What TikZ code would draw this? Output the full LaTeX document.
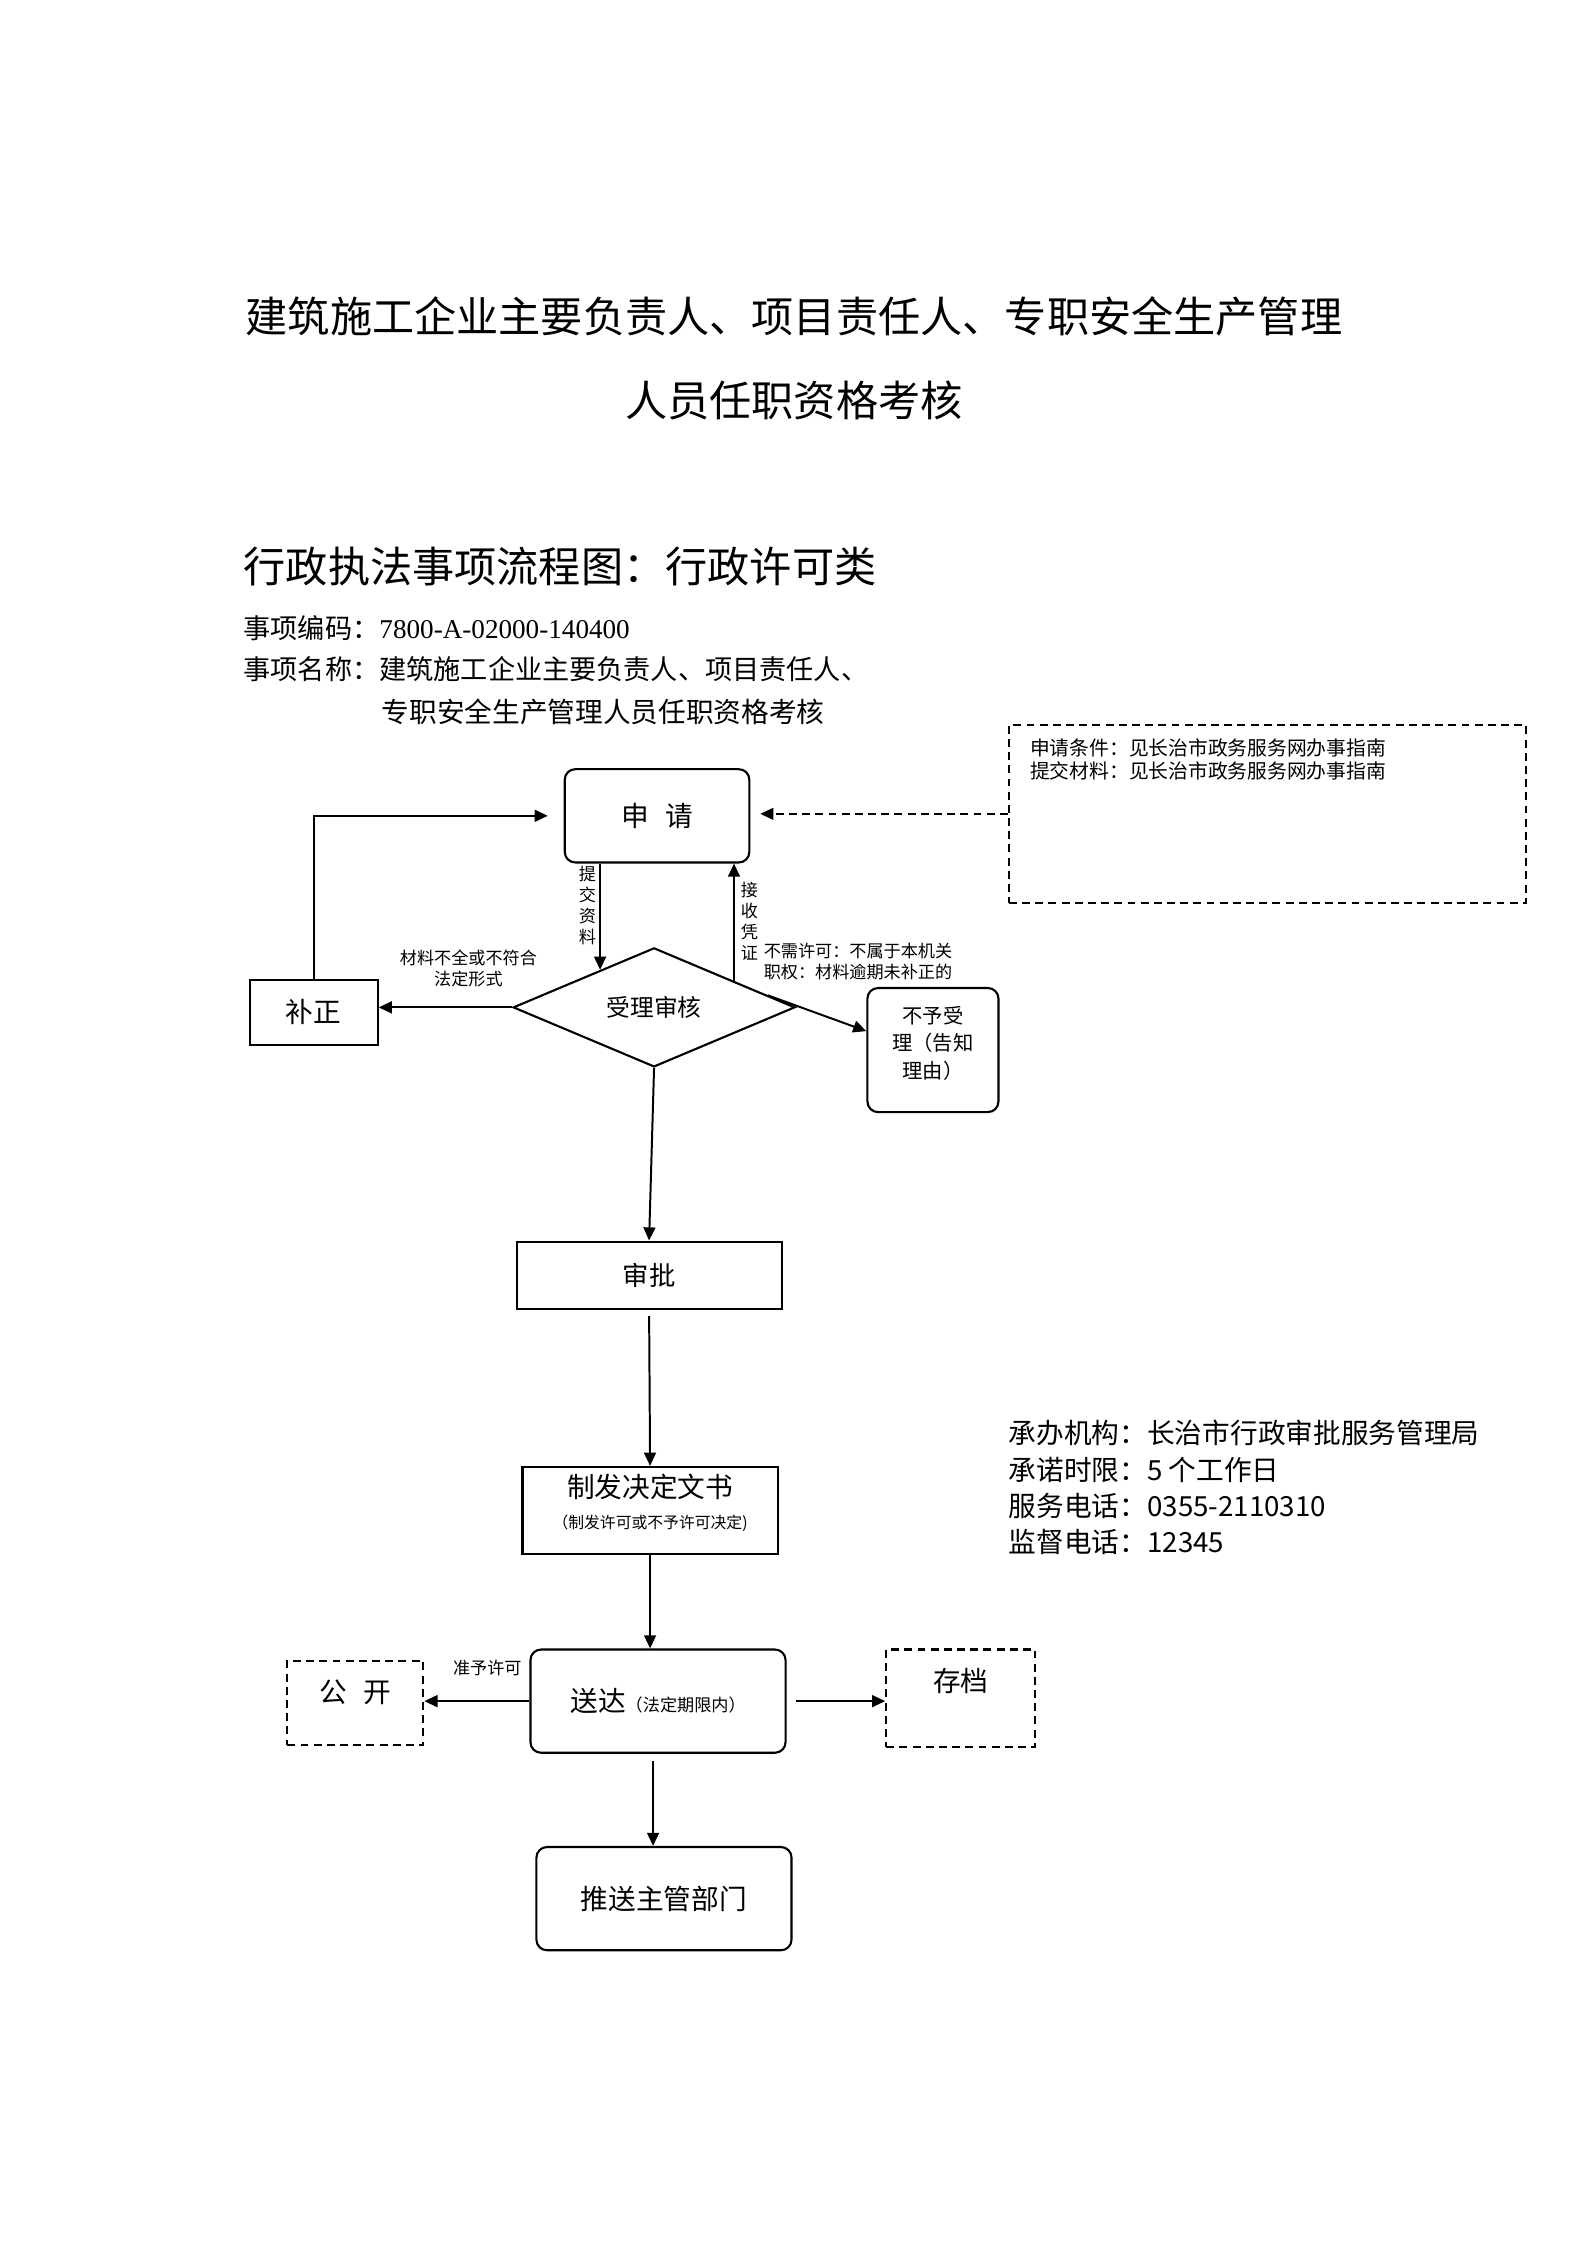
\documentclass[tikz,border=0pt]{standalone}
\usepackage{fontspec}
\setmainfont{Noto Sans CJK SC}
\newfontfamily\tnr{Liberation Serif}
\usetikzlibrary{calc,arrows.meta,shapes.geometric}

\newcommand{\setfs}[2]{\fontsize{#1}{#2}\selectfont}
\def\px{0.13233mm}

\tikzset{
  flowbox/.style={draw,line width=0.8pt,inner sep=0pt,align=center,font=\setfs{10.5}{13}},
  roundbox/.style={flowbox,rounded corners=4pt},
  dashbox/.style={flowbox,dash pattern=on 3pt off 2pt},
  arr/.style={line width=0.75pt,-{Triangle[length=5pt,width=4.5pt]}},
  note/.style={inner sep=0pt,align=center,font=\setfs{6.5}{8}}
}

\begin{document}
\begin{tikzpicture}[x=\px,y=-\px]

%page
\useasboundingbox (0,0) rectangle (1599,2262);
\fill[white] (0,0) rectangle (1599,2262);

%title
\node[inner sep=0pt,font=\setfs{16}{20}] (title1) at (800,319) {建筑施工企业主要负责人、项目责任人、专职安全生产管理};
\node[inner sep=0pt,font=\setfs{16}{20}] (title2) at (800,403) {人员任职资格考核};
\node[inner sep=0pt,anchor=west,font=\setfs{16}{20}] (heading) at (245,571) {行政执法事项流程图：行政许可类};
\node[inner sep=0pt,anchor=west,font=\setfs{10.3}{13}] (code) at (245,633) {事项编码：{\tnr 7800-A-02000-140400}};
\node[inner sep=0pt,anchor=west,font=\setfs{10.3}{13}] (name1) at (245,674) {事项名称：建筑施工企业主要负责人、项目责任人、};
\node[inner sep=0pt,anchor=west,font=\setfs{10.5}{13}] (name2) at (384,717) {专职安全生产管理人员任职资格考核};

%boxes
\node[dashbox,minimum width=521*\px,minimum height=179*\px] (info) at (1277,820) {};
\node[inner sep=0pt,anchor=north west,align=left,font=\setfs{7.5}{9}] (infotext) at ([xshift=22*\px,yshift=-14*\px]info.north west)
  {申请条件：见长治市政务服务网办事指南\\提交材料：见长治市政务服务网办事指南};
\node[roundbox,minimum width=186*\px,minimum height=94*\px] (apply) at (662,822) {申\hspace{0.6em}请};
\node[flowbox,minimum width=129*\px,minimum height=65*\px] (fix) at (316,1020) {补正};
\node[draw,diamond,line width=0.8pt,inner sep=0pt,minimum width=284*\px,minimum height=120*\px,font=\setfs{9}{11}] (check) at (659,1015) {受理审核};
\node[roundbox,minimum width=132*\px,minimum height=125*\px,font=\setfs{7.7}{10.5},text depth=6pt] (refuse) at (940,1058) {不予受\\理（告知\\理由）};
\node[flowbox,minimum width=267*\px,minimum height=68*\px,font=\setfs{10}{13}] (approve) at (654,1285) {审批};
\node[flowbox,minimum width=257*\px,minimum height=88*\px,text depth=7pt] (decide) at (655,1522)
  {制发决定文书\\[-1pt]\setfs{6}{8}（制发许可或不予许可决定)};
\node[roundbox,minimum width=257*\px,minimum height=104*\px] (deliver) at (663,1714) {送达{\setfs{6.5}{8}（法定期限内）}};
\node[dashbox,minimum width=137*\px,minimum height=85*\px,text depth=8.7pt] (publish) at (358,1716) {公\hspace{0.6em}开};
\node[dashbox,minimum width=150*\px,minimum height=98*\px,text depth=14pt] (archive) at (968,1711) {存档};
\node[roundbox,minimum width=257*\px,minimum height=104*\px] (push) at (669,1913) {推送主管部门};

%contact info
\node[inner sep=0pt,anchor=west,align=left,font=\setfs{10.5}{13.8}] (contact) at (1016,1499)
  {承办机构：长治市行政审批服务管理局\\承诺时限：5 个工作日\\服务电话：0355-2110310\\监督电话：12345};

%edge points
\coordinate (c1) at ($(check.north)!0.38!(check.west)$);
\coordinate (c2) at ($(check.north)!0.563!(check.east)$);
\coordinate (c3) at ($(check.north)!0.8!(check.east)$);
\coordinate (c4) at ($(refuse.north west)!0.35!(refuse.south west)$);
\coordinate (c5) at ([xshift=-5*\px]deliver.south);

%arrows
\draw[arr,dash pattern=on 3pt off 2pt,shorten >=10*\px] (info.west) -- (info.west -| apply.east);
\draw[arr] (apply.south -| c1) -- (c1);
\draw[arr] (c2) -- (c2 |- apply.south);
\draw[arr] (check.west) -- (check.west -| fix.east);
\draw[arr,shorten >=16*\px] (fix.north) |- (apply.west);
\draw[arr] (c3) -- (c4);
\draw[arr] (check.south) -- (approve.north);
\draw[arr,shorten <=6*\px] (approve.south) -- (decide.north);
\draw[arr] (decide.south) -- (decide.south |- deliver.north);
\draw[arr] (deliver.west) -- (deliver.west -| publish.east);
\draw[arr,shorten <=9*\px] (deliver.east) -- (deliver.east -| archive.west);
\draw[arr,shorten <=7*\px] (c5) -- (c5 |- push.north);

%arrow labels
\node[note] (lblsubmit) at (592,912) {提\\交\\资\\料};
\node[note] (lblreceipt) at (755,928) {接\\收\\凭\\证};
\node[note] (lblincomplete) at (472,976) {材料不全或不符合\\法定形式};
\node[note,anchor=west,align=left] (lblrefuse) at (769,969) {不需许可：不属于本机关\\职权：材料逾期未补正的};
\node[note] (lblgrant) at (491,1681) {准予许可};

\end{tikzpicture}
\end{document}
